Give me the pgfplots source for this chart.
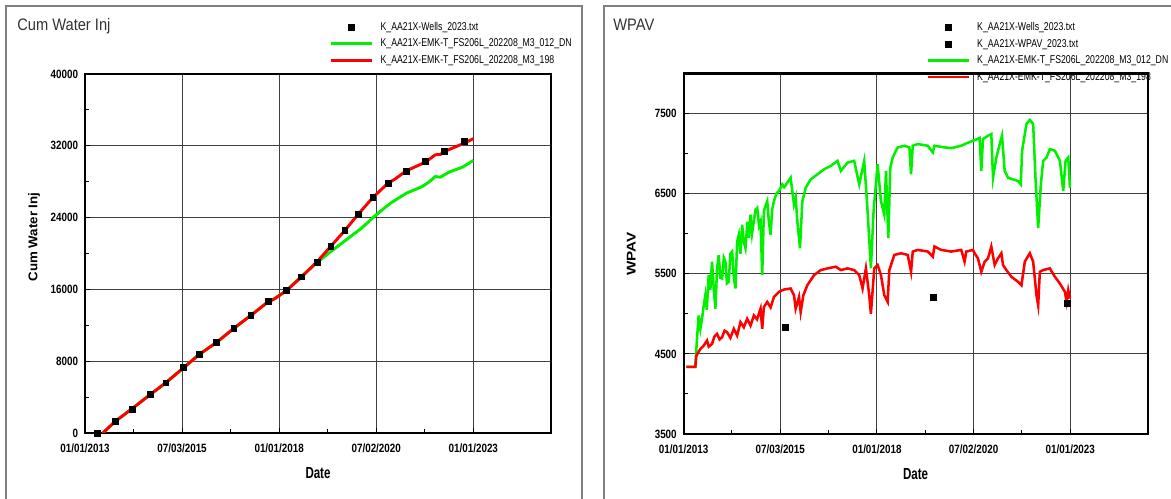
\documentclass[border=0pt]{standalone}
\usepackage{pgfplots}
\pgfplotsset{compat=1.18}
\usepackage{fontspec}
\newfontfamily\tickfont[FakeStretch=0.82]{Liberation Sans Bold}
\newfontfamily\legfont[FakeStretch=0.77]{Liberation Sans}
\newfontfamily\titlefont[FakeStretch=0.88]{Liberation Sans}
\newfontfamily\labfont[FakeStretch=0.72]{Liberation Sans Bold}
\newfontfamily\ylabfont[FakeStretch=1.05]{Liberation Sans Bold}
\newfontfamily\ylabfontw[FakeStretch=1.2]{Liberation Sans Bold}
\definecolor{simgreen}{RGB}{0,240,0}
\definecolor{simred}{RGB}{255,0,0}

\pgfplotsset{
  panel/.style={
    scale only axis,
    scaled ticks=false,
    xmin=0, xmax=12,
    axis line style={line width=1.6pt},
    grid=major,
    major grid style={black!75, line width=0.7pt},
    xtick={0,2.5,5,7.5,10},
    xticklabels={01/01/2013,07/03/2015,01/01/2018,07/02/2020,01/01/2023},
    minor x tick num=1, minor y tick num=1,
    tick pos=left, tick align=inside,
    major tick length=4pt, minor tick length=3pt,
    tick style={black, line width=0.8pt},
    ticklabel style={font=\tickfont\fontsize{9}{10}\selectfont, inner sep=0pt},
    xticklabel style={yshift=-8pt},
    yticklabel style={xshift=-5pt},
    every axis x label/.style={at={(axis description cs:0.5,0)}, anchor=center, yshift=-30pt},
    xlabel={Date},
    xlabel style={font=\labfont\fontsize{12}{13}\selectfont},
    legend cell align=left,
    legend image code/.code={\draw[mark repeat=2,mark phase=2,#1] plot coordinates {(0pt,0pt) (15.4pt,0pt) (30.8pt,0pt)};},
    legend style={draw=none, fill=none, inner sep=0pt, row sep=3.7pt, column sep=5.5pt,
      font=\legfont\fontsize{8.5}{9}\selectfont,
      nodes={inner sep=0pt, text height=6.5pt, text depth=2.2pt}},
  },
  wells/.style={only marks, mark=square*, mark size=2.2pt, black},
}

\begin{document}
\begin{tikzpicture}[x=0.75pt, y=0.75pt]
\useasboundingbox (0,0) rectangle (1171,499);
\coordinate (LA) at (85,66);
\coordinate (RA) at (683.6,65);

% frames of the two panels
\draw[black!50, line width=1.2pt] (6,-10) -- (6,493) -- (582,493) -- (582,-10);
\draw[black!50, line width=1.2pt] (604,-10) -- (604,493) -- (1190,493);

\node[anchor=base west, font=\titlefont\fontsize{12.5}{13}\selectfont, text=black!80, inner sep=0pt] at (17,468) {Cum Water Inj};
\node[anchor=base west, font=\titlefont\fontsize{12.5}{13}\selectfont, text=black!80, inner sep=0pt] at (613,468) {WPAV};

% ---------------- Cum Water Inj
\begin{axis}[panel,
  at={(LA)}, anchor=south west,
  width=349.5pt, height=269.25pt,
  ymin=0, ymax=40000,
  ytick={0,8000,16000,24000,32000,40000},
  yticklabels={0,8000,16000,24000,32000,40000},
  every axis y label/.style={at={(axis description cs:-0.109,0.546)}, rotate=90, anchor=center},
  ylabel={Cum Water Inj},
  ylabel style={font=\ylabfont\fontsize{9.5}{10}\selectfont},
  legend style={at={(axis description cs:0.5236,1.147)}, anchor=north west},
]
\addplot[wells] coordinates {
(0.32,0) (0.78,1345) (1.21,2689) (1.67,4295) (2.08,5603) (2.52,7283)
(2.94,8740) (3.39,10122) (3.83,11653) (4.27,13110) (4.71,14679) (5.19,15874)
(5.58,17405) (5.97,19049) (6.33,20804) (6.69,22559) (7.03,24352) (7.41,26220)
(7.80,27826) (8.27,29208) (8.77,30291) (9.26,31374) (9.77,32457)
};
\addlegendentry{K\_AA21X-Wells\_2023.txt}
\addplot[simgreen, line width=2.2pt] coordinates {
(0.46,0) (0.78,1300) (1.21,2700) (1.67,4250) (2.08,5600) (2.52,7200)
(2.94,8750) (3.39,10100) (3.83,11650) (4.27,13100) (4.71,14600) (4.88,14950)
(5.19,15874) (5.53,17293) (5.92,18787) (6.26,19982) (6.69,21402) (7.12,22822)
(7.47,24203) (7.73,25137) (7.90,25697) (8.27,26706) (8.68,27452) (8.85,27938)
(9.02,28573) (9.15,28498) (9.37,29058) (9.72,29618) (10.0,30366)
};
\addlegendentry{K\_AA21X-EMK-T\_FS206L\_202208\_M3\_012\_DN}
\addplot[simred, line width=2.2pt] coordinates {
(0.46,0) (0.78,1300) (1.21,2700) (1.67,4250) (2.08,5600) (2.52,7200)
(2.94,8750) (3.39,10100) (3.83,11650) (4.27,13100) (4.71,14600) (4.88,14950)
(5.19,15874) (5.58,17405) (5.97,19049) (6.33,20804) (6.69,22559) (7.03,24352)
(7.41,26220) (7.60,27004) (7.80,27826) (7.99,28311) (8.27,29208) (8.77,30179)
(9.02,31000) (9.15,31038) (9.26,31374) (9.77,32300) (10.0,32793)
};
\addlegendentry{K\_AA21X-EMK-T\_FS206L\_202208\_M3\_198}
\end{axis}

% ---------------- WPAV
\begin{axis}[panel,
  at={(RA)}, anchor=south west,
  width=348pt, height=270.4pt,
  ymin=3500, ymax=8000,
  ytick={3500,4500,5500,6500,7500},
  yticklabels={3500,4500,5500,6500,7500},
  minor ytick={4000,5000,6000,7000},
  minor y tick num=0,
  every axis y label/.style={at={(axis description cs:-0.113,0.499)}, rotate=90, anchor=center},
  ylabel={WPAV},
  ylabel style={font=\ylabfontw\fontsize{9.5}{10}\selectfont},
  legend style={at={(axis description cs:0.5224,1.144)}, anchor=north west},
]
\addplot[wells] coordinates {(9.93,5127)};
\addlegendentry{K\_AA21X-Wells\_2023.txt}
\addplot[wells] coordinates {(2.64,4833) (6.45,5202)};
\addlegendentry{K\_AA21X-WPAV\_2023.txt}
\addplot[simgreen, line width=1.9pt] coordinates {
(0.069,4339) (0.303,4339) (0.346,4687) (0.389,4980) (0.433,4812) (0.476,4938)
(0.520,5100) (0.562,5232) (0.600,5050) (0.649,5483) (0.692,5300) (0.735,5651)
(0.779,5316) (0.822,5064) (0.865,5567) (0.908,5735) (0.950,5450) (0.995,5441)
(1.040,5700) (1.081,5651) (1.120,5380) (1.168,5399) (1.210,5750) (1.254,5777)
(1.300,5450) (1.341,5316) (1.384,5900) (1.427,5986) (1.470,5750) (1.514,6112)
(1.557,5900) (1.600,5819) (1.650,6150) (1.690,5950) (1.730,6238) (1.770,6000)
(1.817,6154) (1.860,6300) (1.903,6322) (1.950,6100) (1.990,6154) (2.033,5483)
(2.076,6280) (2.120,6350) (2.163,6406) (2.205,6150) (2.249,5986) (2.290,6300)
(2.336,6406) (2.400,6500) (2.465,6532) (2.552,6615) (2.600,6580) (2.682,6636)
(2.768,6699) (2.855,6364) (2.900,6450) (2.941,6154) (3.010,5819) (3.071,6406)
(3.157,6573) (3.287,6678) (3.460,6741) (3.633,6804) (3.806,6846) (3.979,6909)
(4.066,6783) (4.239,6888) (4.412,6909) (4.542,6615) (4.671,6909) (4.758,6280)
(4.844,5567) (4.913,6280) (5.017,6867) (5.104,6406) (5.190,6238) (5.234,6783)
(5.294,5945) (5.346,6825) (5.407,6951) (5.536,7077) (5.709,7098) (5.839,7077)
(5.882,6741) (5.926,7098) (6.055,7119) (6.315,7098) (6.445,7014) (6.488,7098)
(6.747,7077) (6.920,7068) (7.180,7098) (7.310,7127) (7.483,7160) (7.656,7194)
(7.699,6783) (7.742,7181) (7.872,7223) (7.958,7244) (8.002,6699) (8.088,6951)
(8.175,7119) (8.235,7223) (8.304,6783) (8.391,6699) (8.521,6678) (8.651,6657)
(8.720,6615) (8.754,7035) (8.867,7370) (8.953,7420) (9.040,7370) (9.100,6699)
(9.170,6070) (9.239,6615) (9.299,6909) (9.386,6951) (9.472,7056) (9.602,7035)
(9.732,6909) (9.818,6532) (9.879,6909) (9.948,6951) (9.991,6573)
};
\addlegendentry{K\_AA21X-EMK-T\_FS206L\_202208\_M3\_012\_DN}
\addplot[simred, line width=1.9pt] coordinates {
(0.069,4339) (0.303,4339) (0.329,4477) (0.433,4561) (0.519,4603) (0.606,4666)
(0.650,4590) (0.735,4624) (0.800,4720) (0.865,4750) (0.930,4680) (0.995,4708)
(1.060,4790) (1.125,4770) (1.210,4700) (1.298,4812) (1.384,4729) (1.471,4896)
(1.557,4833) (1.644,4938) (1.730,4854) (1.817,4980) (1.900,4930) (1.990,5064)
(2.033,4812) (2.076,5085) (2.163,5148) (2.250,5080) (2.336,5211) (2.465,5274)
(2.595,5303) (2.768,5316) (2.855,5232) (2.898,5064) (2.985,5211) (3.028,5022)
(3.097,5232) (3.201,5358) (3.374,5483) (3.547,5546) (3.720,5567) (3.936,5588)
(4.066,5546) (4.239,5567) (4.412,5546) (4.542,5483) (4.628,5316) (4.715,5567)
(4.801,5232) (4.844,5001) (4.931,5567) (5.017,5609) (5.104,5483) (5.190,5232)
(5.277,5148) (5.320,5546) (5.450,5735) (5.623,5756) (5.796,5735) (5.882,5525)
(5.926,5777) (6.055,5798) (6.315,5777) (6.445,5714) (6.488,5840) (6.661,5798)
(6.920,5777) (7.180,5798) (7.266,5651) (7.310,5777) (7.483,5798) (7.526,5756)
(7.612,5693) (7.699,5525) (7.785,5651) (7.872,5693) (7.958,5840) (8.045,5609)
(8.131,5693) (8.218,5756) (8.261,5609) (8.348,5546) (8.478,5462) (8.651,5399)
(8.737,5357) (8.824,5651) (8.953,5756) (9.040,5651) (9.126,5232) (9.170,5106)
(9.213,5525) (9.299,5546) (9.472,5567) (9.602,5462) (9.732,5378) (9.862,5274)
(9.905,5148) (9.948,5295) (9.991,5190)
};
\addlegendentry{K\_AA21X-EMK-T\_FS206L\_202208\_M3\_198}
\end{axis}
\end{tikzpicture}
\end{document}
